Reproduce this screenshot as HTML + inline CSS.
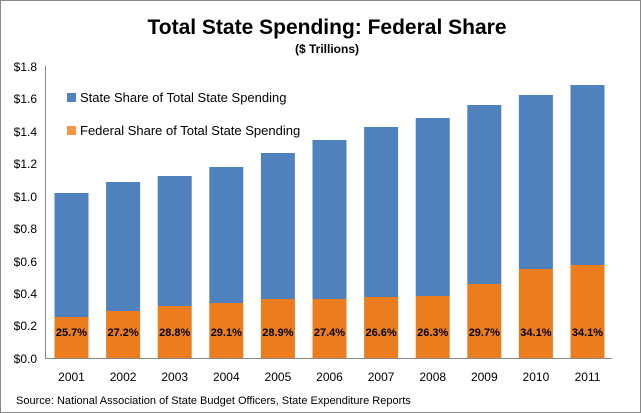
<!DOCTYPE html>
<html><head><style>
body{margin:0;background:#fff}
svg{display:block;font-family:"Liberation Sans",sans-serif}
</style></head><body>
<svg width="641" height="413" viewBox="0 0 641 413">
<rect x="0.5" y="0.5" width="640" height="412" fill="#fff" stroke="#888"/>
<text x="327" y="34" font-size="21" font-weight="bold" text-anchor="middle" fill="#000">Total State Spending: Federal Share</text>
<text x="327" y="53" font-size="12" font-weight="bold" text-anchor="middle" fill="#000">($ Trillions)</text>
<g font-size="12" fill="#000" text-anchor="end">
<text x="37" y="71">$1.8</text><text x="37" y="103">$1.6</text><text x="37" y="136">$1.4</text>
<text x="37" y="168">$1.2</text><text x="37" y="201">$1.0</text><text x="37" y="233">$0.8</text>
<text x="37" y="266">$0.6</text><text x="37" y="298">$0.4</text><text x="37" y="330">$0.2</text>
<text x="37" y="363">$0.0</text>
</g>
<g fill="#4f81bd">
<rect x="54.5" y="193" width="34" height="124"/>
<rect x="106.1" y="182" width="34" height="129"/>
<rect x="157.7" y="176" width="34" height="130"/>
<rect x="209.3" y="167" width="34" height="136"/>
<rect x="260.9" y="153" width="34" height="146"/>
<rect x="312.5" y="140" width="34" height="159"/>
<rect x="364.1" y="127" width="34" height="170"/>
<rect x="415.7" y="118" width="34" height="178"/>
<rect x="467.3" y="105" width="34" height="179"/>
<rect x="518.9" y="95" width="34" height="174"/>
<rect x="570.5" y="85" width="34" height="180"/>
</g>
<g fill="#ec7d1e">
<rect x="54.5" y="317" width="34" height="41"/>
<rect x="106.1" y="311" width="34" height="47"/>
<rect x="157.7" y="306" width="34" height="52"/>
<rect x="209.3" y="303" width="34" height="55"/>
<rect x="260.9" y="299" width="34" height="59"/>
<rect x="312.5" y="299" width="34" height="59"/>
<rect x="364.1" y="297" width="34" height="61"/>
<rect x="415.7" y="296" width="34" height="62"/>
<rect x="467.3" y="284" width="34" height="74"/>
<rect x="518.9" y="269" width="34" height="89"/>
<rect x="570.5" y="265" width="34" height="93"/>
</g>
<g font-size="11" font-weight="bold" text-anchor="middle" fill="#000">
<text x="71.5" y="336">25.7%</text><text x="123.1" y="336">27.2%</text><text x="174.7" y="336">28.8%</text>
<text x="226.3" y="336">29.1%</text><text x="277.9" y="336">28.9%</text><text x="329.5" y="336">27.4%</text>
<text x="381.1" y="336">26.6%</text><text x="432.7" y="336">26.3%</text><text x="484.3" y="336">29.7%</text>
<text x="535.9" y="336">34.1%</text><text x="587.5" y="336">34.1%</text>
</g>
<g font-size="12" text-anchor="middle" fill="#000">
<text x="71.5" y="381">2001</text><text x="123.1" y="381">2002</text><text x="174.7" y="381">2003</text>
<text x="226.3" y="381">2004</text><text x="277.9" y="381">2005</text><text x="329.5" y="381">2006</text>
<text x="381.1" y="381">2007</text><text x="432.7" y="381">2008</text><text x="484.3" y="381">2009</text>
<text x="535.9" y="381">2010</text><text x="587.5" y="381">2011</text>
</g>
<line x1="45.5" y1="66" x2="45.5" y2="358" stroke="#888"/>
<line x1="45" y1="358.5" x2="612" y2="358.5" stroke="#888"/>
<rect x="67" y="93" width="9" height="9" fill="#4f81bd"/>
<text x="80" y="102" font-size="13" fill="#000">State Share of Total State Spending</text>
<rect x="67" y="126" width="9" height="9" fill="#f79646"/>
<text x="80" y="135" font-size="13" fill="#000">Federal Share of Total State Spending</text>
<text x="16" y="404" font-size="11" fill="#000">Source: National Association of State Budget Officers, State Expenditure Reports</text>
</svg>
</body></html>
